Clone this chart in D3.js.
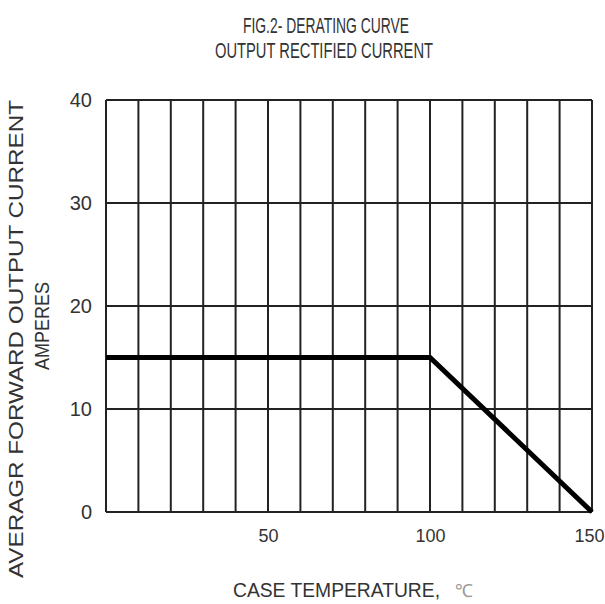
<!DOCTYPE html>
<html>
<head>
<meta charset="utf-8">
<script src="https://cdn.jsdelivr.net/npm/d3@7"></script>
<style>
  body { margin: 0; background: #fff; }
  svg { display: block; }
  text { font-family: "Liberation Sans", Arial, sans-serif; fill: #333; }
</style>
</head>
<body>
<svg id="chart" width="605" height="604"></svg>
<script>
// derating curve data (case temp in C, current in A)
const caseTemp = [0, 100, 150];
const outCurrent = [15, 15, 0];
const xTickLabels = [50, 100, 150];
const yTickLabels = [0, 10, 20, 30, 40];
const xGrid = d3.range(0, 151, 10);
const yGrid = [0, 10, 20, 30, 40];

const svg = d3.select('#chart');

const xScale = d3.scaleLinear().domain([0, 150]).range([106, 592]);
const yScale = d3.scaleLinear().domain([0, 40]).range([512, 100]);

//grid lines
svg.append('g')
    .selectAll('line')
    .data(xGrid)
    .enter()
    .append('line')
        .attr('x1', d => xScale(d))
        .attr('x2', d => xScale(d))
        .attr('y1', yScale(0))
        .attr('y2', yScale(40))
        .attr('stroke', '#222')
        .attr('stroke-width', 2);

svg.append('g')
    .selectAll('line')
    .data(yGrid)
    .enter()
    .append('line')
        .attr('x1', xScale(0))
        .attr('x2', xScale(150))
        .attr('y1', d => yScale(d))
        .attr('y2', d => yScale(d))
        .attr('stroke', '#222')
        .attr('stroke-width', 2);

//axes (labels only)
const xAxis = svg.append('g')
    .attr('transform', `translate(0, ${yScale(0)})`)
    .call(d3.axisBottom(xScale).tickValues(xTickLabels).tickSize(0).tickPadding(17));
xAxis.select('.domain').remove();
xAxis.selectAll('text')
    .attr('font-size', '18px')
    .attr('fill', '#333')
    .attr('dx', d => d === 150 ? -3 : 0)
    .style('font-family', '"Liberation Sans", Arial, sans-serif');

const yAxis = svg.append('g')
    .attr('transform', `translate(92, 0)`)
    .call(d3.axisLeft(yScale).tickValues(yTickLabels).tickSize(0).tickPadding(0));
yAxis.select('.domain').remove();
yAxis.selectAll('text')
    .attr('font-size', '20px')
    .attr('fill', '#333')
    .style('font-family', '"Liberation Sans", Arial, sans-serif');

//derating line
const line = d3.line()
    .x((d, i) => xScale(caseTemp[i]))
    .y(d => yScale(d));

svg.append('path')
    .datum(outCurrent)
    .attr('fill', 'none')
    .attr('stroke', '#000')
    .attr('stroke-width', 5)
    .attr('stroke-linejoin', 'miter')
    .attr('d', line);

//titles
svg.append('text')
    .attr('x', 243).attr('y', 33)
    .attr('font-size', '22px')
    .attr('textLength', 166).attr('lengthAdjust', 'spacingAndGlyphs')
    .text('FIG.2- DERATING CURVE');

svg.append('text')
    .attr('x', 215).attr('y', 58)
    .attr('font-size', '22px')
    .attr('textLength', 218).attr('lengthAdjust', 'spacingAndGlyphs')
    .text('OUTPUT RECTIFIED CURRENT');

svg.append('text')
    .attr('x', 233).attr('y', 597)
    .attr('font-size', '20px')
    .attr('textLength', 207).attr('lengthAdjust', 'spacingAndGlyphs')
    .text('CASE TEMPERATURE,');

svg.append('text')
    .attr('x', 455).attr('y', 597)
    .attr('font-size', '18px')
    .style('fill', '#999')
    .text('℃');

//y axis titles
svg.append('text')
    .attr('transform', 'translate(23, 578) rotate(-90)')
    .attr('font-size', '20px')
    .attr('textLength', 478).attr('lengthAdjust', 'spacingAndGlyphs')
    .text('AVERAGR  FORWARD  OUTPUT CURRENT');

svg.append('text')
    .attr('transform', 'translate(49, 370) rotate(-90)')
    .attr('font-size', '21px')
    .attr('textLength', 88).attr('lengthAdjust', 'spacingAndGlyphs')
    .text('AMPERES');
</script>
</body>
</html>
